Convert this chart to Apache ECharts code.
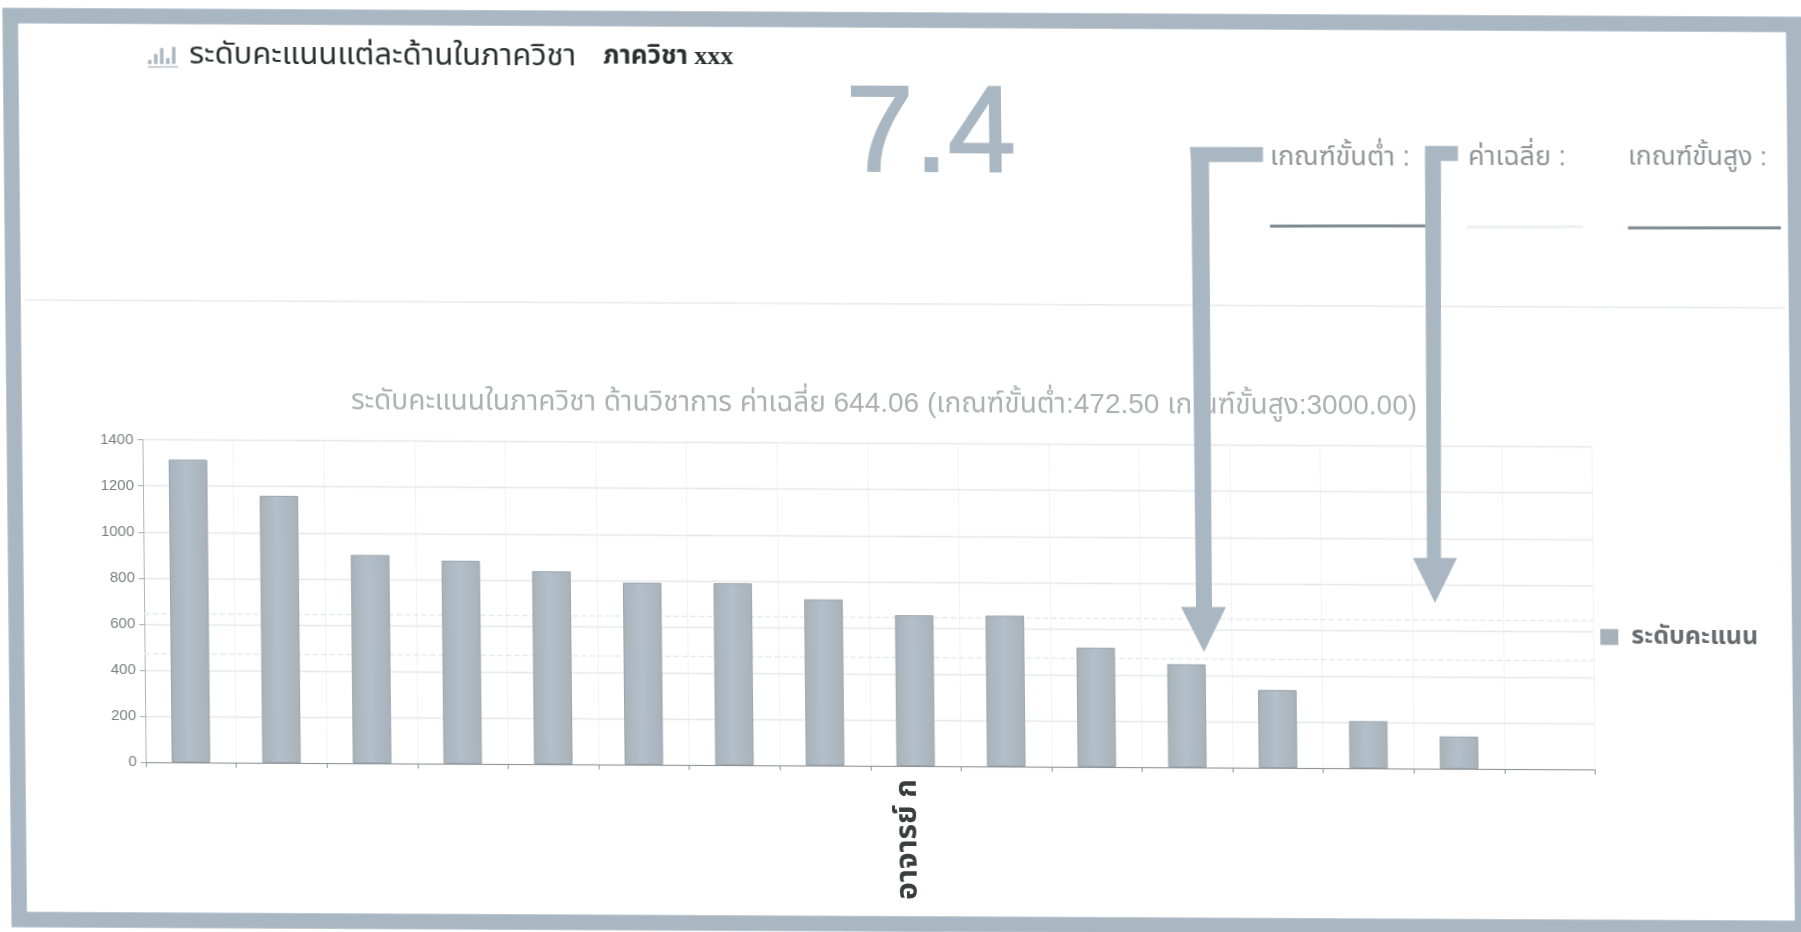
<!DOCTYPE html>
<html lang="th">
<head>
<meta charset="utf-8">
<title>ระดับคะแนนในภาควิชา</title>
<style>
html,body{margin:0;padding:0;width:1801px;height:932px;overflow:hidden;background:#fff}
/* the source is a slightly skewed scan: the whole drawing is sheared the same way */
#chart{position:absolute;left:0;top:0;width:1820px;height:950px;transform-origin:0 0;transform:matrix(1,0.005,0.01,1,-4,-4.5)}
</style>
<script src="https://cdn.jsdelivr.net/npm/echarts@6/dist/echarts.min.js"></script>
</head>
<body>
<div id="chart"></div>
<script>
const categories = ['', '', '', '', '', '', '', '', 'อาจารย์ ก', '', '', '', '', '', '', ''];
const scoreValues = [1315, 1160, 905, 882, 838, 790, 790, 722, 655, 655, 518, 448, 338, 205, 140, null];
const averageScore = 644.06;
const minimumScore = 472.5;
const seriesName = 'ระดับคะแนน';
const yMax = 1400;
const yStep = 200;
const headingMain = 'ระดับคะแนนแต่ละด้านในภาควิชา';
const headingDept = 'ภาควิชา xxx';
const bigNumber = '7.4';
const chartTitle = 'ระดับคะแนนในภาควิชา ด้านวิชาการ ค่าเฉลี่ย 644.06 (เกณฑ์ขั้นต่ำ:472.50 เกณฑ์ขั้นสูง:3000.00)';
const criteriaLabels = ['เกณฑ์ขั้นต่ำ :', 'ค่าเฉลี่ย :', 'เกณฑ์ขั้นสูง :'];

const INK = '#a9b7c2', THAI = '"Liberation Sans","Noto Sans","Noto Sans Thai",sans-serif';
// page position -> drawing position under the shear
const L = (sx, sy) => {
  const X = (sx + 4 - 0.01 * (sy + 4.5)) / (1 - 0.00005);
  return [X, sy + 4.5 - 0.005 * X];
};
const text = (sx, sy, t, size, fill, extra) => {
  const p = L(sx, sy);
  return {type:'text', x:p[0], y:p[1], z:50, style:Object.assign({text:t, fontSize:size, fill, fontFamily:THAI, verticalAlign:'middle', align:'left'}, extra||{})};
};
const poly = pts => ({type:'polygon', z:100, shape:{points:pts.map(p=>L(p[0],p[1]))}, style:{fill:INK}});
const seg = (x1,y1,x2,y2,stroke,w) => {
  const a=L(x1,y1), b=L(x2,y2);
  return {type:'line', z:40, shape:{x1:a[0],y1:a[1],x2:b[0],y2:b[1]}, style:{stroke,lineWidth:w}};
};
const iconBars = [[148,60],[154,54],[160,48],[166,58],[172,47]].map(b => poly([[b[0],b[1]],[b[0]+3.5,b[1]],[b[0]+3.5,64],[b[0],64]]));

const chart = echarts.init(document.getElementById('chart'), null, {renderer:'canvas'});
chart.setOption({
  animation:false,
  backgroundColor:'#fff',
  title:{text:chartTitle, left:879, top:385, textAlign:'center', textStyle:{fontSize:28, fontWeight:'normal', color:'#adb1b4', fontFamily:THAI}},
  legend:{data:[seriesName], orient:'vertical', left:1593, top:616, icon:'rect', itemWidth:18, itemHeight:16, itemGap:6,
    itemStyle:{color:'#a7b1b9',borderWidth:0}, textStyle:{fontSize:25, fontWeight:'bold', color:'#666c70', fontFamily:THAI, padding:[0,0,0,8]}},
  grid:{left:142, right:1820-1591.5, top:443.7, bottom:950-766, containLabel:false},
  xAxis:{type:'category', data:categories, boundaryGap:true,
    axisLine:{lineStyle:{color:'#8f9396',width:1.2}}, axisTick:{show:true,interval:0,length:5,lineStyle:{color:'#8f9396'}},
    splitLine:{show:true,interval:0,lineStyle:{color:'#e4e6e8',type:'dotted'}},
    axisLabel:{interval:0, rotate:90, margin:13, fontSize:30, fontWeight:'bold', color:'#3a3c3e', fontFamily:'"Liberation Serif",'+THAI, verticalAlign:'bottom', lineHeight:16}},
  yAxis:{type:'value', min:0, max:yMax, interval:yStep,
    axisLine:{show:true,lineStyle:{color:'#a6a9ab',type:'dotted'}}, axisTick:{show:true,length:5,lineStyle:{color:'#a6a9ab'}},
    splitLine:{show:true,lineStyle:{color:'#e6e8ea',width:1.4}},
    axisLabel:{margin:9, fontSize:15, color:'#7b7e80', fontFamily:'"Liberation Sans",sans-serif', formatter:v=>String(v)}},
  series:[{name:seriesName, type:'bar', data:scoreValues, barWidth:'42.5%',
    itemStyle:{borderColor:'#9ba5ad',borderWidth:1,
      color:{type:'linear',x:0,y:0,x2:1,y2:0,colorStops:[{offset:0,color:'#a8b2ba'},{offset:.45,color:'#b3bfc9'},{offset:1,color:'#a8b2ba'}]}},
    markLine:{silent:true,symbol:'none',z:1,label:{show:false},lineStyle:{color:'#e7e9eb',type:'dashed',width:1.4},
      data:[{yAxis:averageScore},{yAxis:minimumScore}]}}],
  graphic:[
    {type:'rect', z:90, shape:{x:14,y:20,width:1783.5,height:904}, style:{fill:'transparent',stroke:INK,lineWidth:15.5}},
    seg(25,300,1785,308,'#e6e8ea',1.4),
    ...iconBars,
    seg(148,67,178,67,'#b5bec6',1.5),
    text(189,55,headingMain,31,'#2c2e30'),
    text(603,57,headingDept,26,'#2c2e30',{fontWeight:'bold',fontFamily:'"Liberation Serif",'+THAI}),
    text(931,138,bigNumber,122,INK,{align:'center',fontFamily:'"Liberation Sans",sans-serif',stroke:INK,lineWidth:2}),
    text(1270,157,criteriaLabels[0],27,'#8f9498'),
    text(1468,157,criteriaLabels[1],27,'#8f9498'),
    text(1628,157,criteriaLabels[2],26.5,'#8f9498'),
    seg(1270,226,1426,226,'#7d8a91',3),
    seg(1467,227,1583,227,'#eeeff0',3),
    seg(1628,228,1781,228,'#7d8a91',3),
    poly([[1190,147],[1263,147],[1263,162],[1209,162],[1212,607],[1226,607],[1204,652],[1181,607],[1196,607],[1191,162]]),
    poly([[1425,146],[1458,146],[1458,161],[1441,161],[1441,558],[1457,558],[1435,603],[1413,558],[1427,558],[1425,161]])
  ]
});
</script>
</body>
</html>
